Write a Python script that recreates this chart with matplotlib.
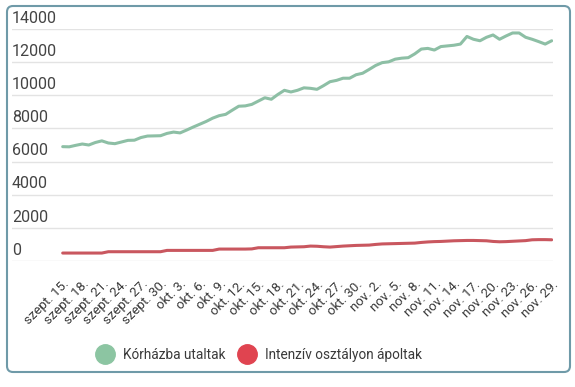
import matplotlib
matplotlib.use("Agg")
import matplotlib.pyplot as plt
from matplotlib.patches import FancyBboxPatch
from matplotlib.lines import Line2D
from matplotlib.transforms import IdentityTransform
import pandas as pd

plt.rcParams['font.family'] = ['Roboto', 'DejaVu Sans']

month_names = {9: "szept.", 10: "okt.", 11: "nov."}
dates = pd.date_range("2021-09-15", "2021-11-29", freq="D")
categories = [f"{month_names[d.month]} {d.day}." for d in dates]

hospitalized = [6900, 6890, 6980, 7060, 7000, 7150, 7250, 7120, 7080, 7180,
                7280, 7290, 7450, 7540, 7550, 7560, 7700, 7780, 7730, 7900,
                8080, 8250, 8420, 8620, 8770, 8850, 9100, 9340, 9360, 9450,
                9650, 9850, 9760, 10050, 10300, 10200, 10300, 10450, 10420, 10360,
                10580, 10820, 10900, 11030, 11030, 11240, 11330, 11560, 11800, 11970,
                12020, 12180, 12240, 12270, 12500, 12790, 12830, 12730, 12940, 12980,
                13020, 13090, 13550, 13380, 13290, 13500, 13640, 13380, 13580, 13760,
                13760, 13500, 13380, 13240, 13090, 13290]

icu = [480, 480, 480, 480, 480, 480, 480, 560, 560, 560,
       560, 560, 560, 560, 560, 560, 640, 640, 640, 640,
       640, 640, 640, 640, 720, 720, 720, 720, 720, 730,
       800, 800, 800, 800, 800, 840, 850, 860, 900, 890,
       860, 840, 870, 900, 920, 940, 950, 960, 1000, 1030,
       1040, 1050, 1060, 1070, 1080, 1120, 1150, 1170, 1180, 1200,
       1220, 1230, 1240, 1240, 1230, 1220, 1180, 1160, 1170, 1190,
       1210, 1230, 1280, 1290, 1290, 1280]

series_names = ["Kórházba utaltak", "Intenzív osztályon ápoltak"]
line_colors = ["#8dbfa5", "#c9575f"]
legend_colors = ["#8cc5a2", "#e04450"]
yticks = [0, 2000, 4000, 6000, 8000, 10000, 12000, 14000]

W, H = 575, 387
fig = plt.figure(figsize=(W / 100, H / 100), dpi=100)
fig.patch.set_facecolor("white")

left_px, right_px, top_px, bot_px = 12, 553, 29, 261
ax = fig.add_axes([left_px / W, 1 - bot_px / H, (right_px - left_px) / W, (bot_px - top_px) / H])

x = list(range(len(categories)))
ax.plot(x, hospitalized, color=line_colors[0], lw=2.2, solid_capstyle='round')
ax.plot(x, icu, color=line_colors[1], lw=2.2, solid_capstyle='round')

px_per_day = (551.7 - 62.7) / 75
ax.set_xlim(-(62.7 - left_px) / px_per_day, 75 + (right_px - 551.7) / px_per_day)
ax.set_ylim(0, 14000)

for s in ax.spines.values():
    s.set_visible(False)
ax.set_yticks(yticks)
ax.set_yticklabels([])
ax.tick_params(axis='y', length=0)
ax.grid(axis='y', color='#e3e3e3', lw=1)
ax.set_axisbelow(True)
for v in yticks:
    ax.text(0, v + 200, str(v), transform=ax.get_yaxis_transform(), ha='left', va='bottom',
            fontsize=11.5, color='#444444')

tick_idx = x[::3]
ax.set_xticks(tick_idx)
ax.set_xticklabels([categories[i] for i in tick_idx], rotation=45, ha='right', va='top',
                   rotation_mode='anchor', fontsize=9.5, color='#3a3a3a')
ax.tick_params(axis='x', length=0, pad=12)

handles = [Line2D([], [], marker='o', linestyle='none', markersize=14,
                  markerfacecolor=c, markeredgecolor=c) for c in legend_colors]
fig.legend(handles, series_names, loc='center', bbox_to_anchor=(257 / W, 1 - 355 / H), ncol=2,
           frameon=False, fontsize=9.8, handletextpad=0.3, columnspacing=0.6, labelcolor='#3a3a3a')

border = FancyBboxPatch((7, 387 - 372), 563, 366, boxstyle="round,pad=0,rounding_size=6",
                        transform=IdentityTransform(), fill=False, edgecolor='#6f9aa8', lw=1.5)
fig.add_artist(border)

fig.savefig("out.png", dpi=100, facecolor="white")
